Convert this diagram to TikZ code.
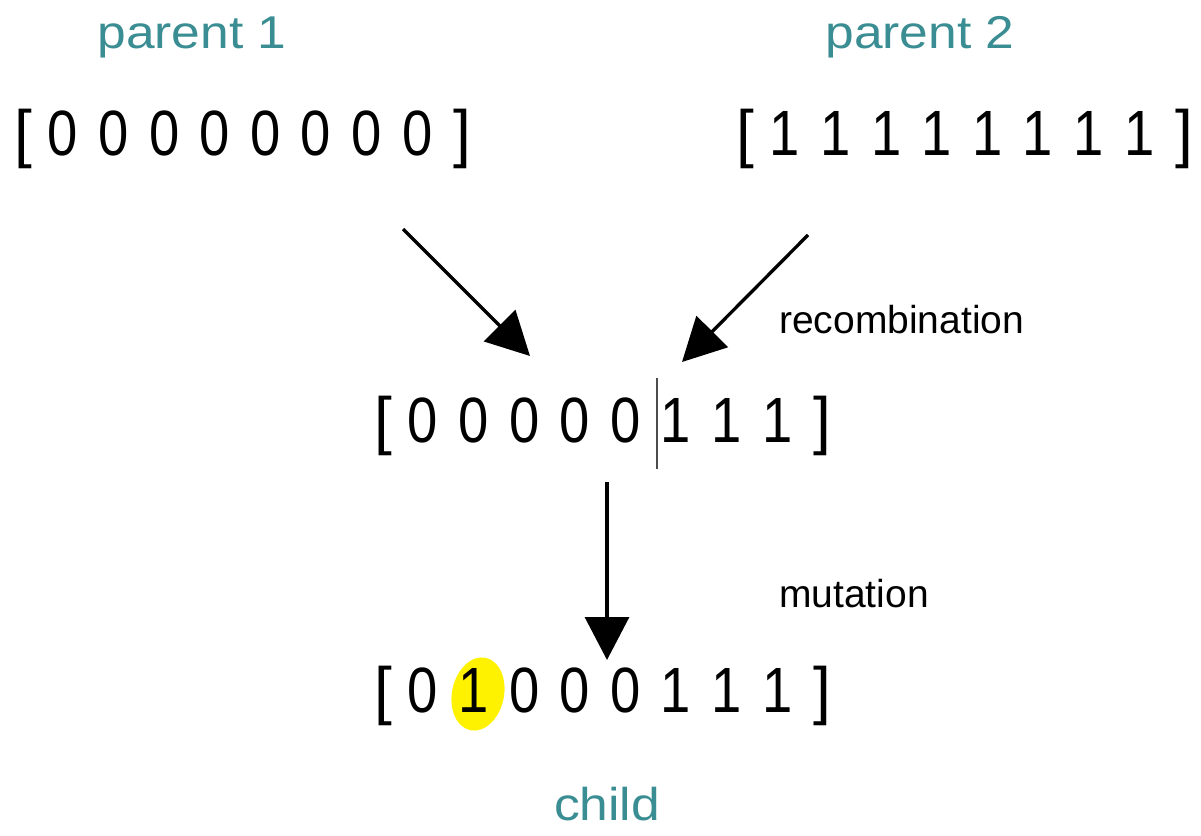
\documentclass[tikz,border=0pt]{standalone}
\usepackage{fontspec}
\usepackage{graphicx}
\setmainfont{Liberation Sans}
\usetikzlibrary{arrows.meta}
\definecolor{tealtxt}{RGB}{58,141,146}
\newcommand\bitfont{\fontsize{64}{70}\selectfont}
\newcommand\labfont{\fontsize{46}{52}\selectfont}
\newcommand\notefont{\fontsize{39}{44}\selectfont}
\begin{document}
\begin{tikzpicture}[x=1pt,y=-1pt,line join=round,>={Triangle[length=43pt,width=44pt]},
  bit/.style={anchor=base,inner sep=0pt,font=\bitfont},
  lab/.style={anchor=base,inner sep=0pt,font=\labfont,text=tealtxt},
  note/.style={anchor=base west,inner sep=0pt,font=\notefont}]
\useasboundingbox (0,0) rectangle (1201,835);
% labels
\node[lab] (par1) at (192,48) {\scalebox{1.12}[1]{parent 1}};
\node[lab] (par2) at (920,48) {\scalebox{1.12}[1]{parent 2}};
\node[lab] (child) at (607,820) {\scalebox{1.12}[1]{child}};
\node[note] (rec) at (779,333) {recombination};
\node[note] (mut) at (779,607) {mutation};
% mutated bit
\fill[yellow,rotate around={-12:(478,694)}] (478,694) ellipse (26 and 37);
% brackets
\foreach \nm/\xl/\yb in {pa/14/155, pb/736/155, mid/374/442, ch/374/712} {
  \node[bit,anchor=base west] (\nm L) at (\xl,\yb) {[};
  \node[bit,anchor=base west] (\nm R) at (\xl+439,\yb) {]};
}
% bits
\foreach \b [count=\i from 0] in {0,0,0,0,0,0,0,0} \node[bit] (pa\i) at (63+50.6*\i,155) {\scalebox{.85}[1]{\b}};
\foreach \b [count=\i from 0] in {1,1,1,1,1,1,1,1} \node[bit] (pb\i) at (785+50.6*\i,155) {\scalebox{.85}[1]{\b}};
\foreach \b [count=\i from 0] in {0,0,0,0,0,1,1,1} \node[bit] (mid\i) at (423+50.6*\i,442) {\scalebox{.85}[1]{\b}};
\foreach \b [count=\i from 0] in {0,1,0,0,0,1,1,1} \node[bit] (ch\i) at (423+50.6*\i,712) {\scalebox{.85}[1]{\b}};
% cut point
\draw[line width=1.5pt,black!70] (657,378) -- (657,469);
% arrows
\coordinate (s1) at (403,229); \coordinate (e1) at (530,356);
\coordinate (s2) at (808,235); \coordinate (e2) at (682,362);
\coordinate (s3) at (607,482); \coordinate (e3) at (607,660);
\foreach \k in {1,2,3} \draw[->,line width=3.3pt] (s\k) -- (e\k);
\end{tikzpicture}
\end{document}
